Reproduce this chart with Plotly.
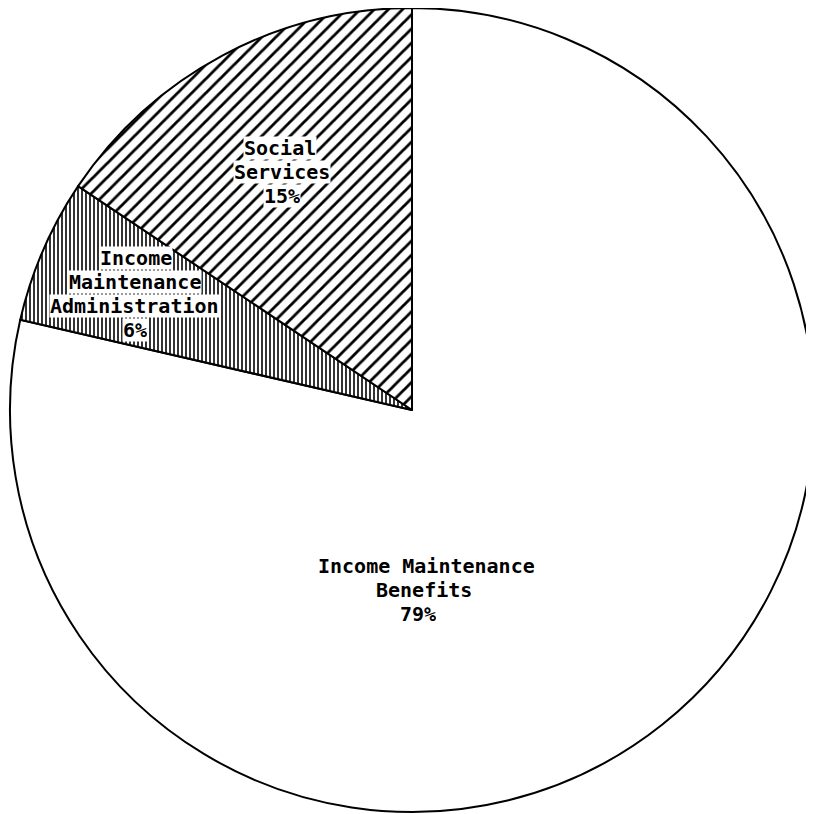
import plotly.graph_objects as go

labels = ["Income Maintenance Benefits", "Income Maintenance Administration", "Social Services"]
values = [78.6, 5.8, 15.6]
pct_text = ["79%", "6%", "15%"]
label_lines = [
    ["Income Maintenance", "Benefits"],
    ["Income", "Maintenance", "Administration"],
    ["Social", "Services"],
]
patterns = ["", "|", "/"]
pattern_sizes = [8, 4, 10]
pattern_solidity = [0.3, 0.4, 0.28]

# label line placement (page pixel positions of each text line centre)
label_px = [
    [(426, 566), (424, 590), (418, 614)],
    [(136, 258), (135, 282), (135, 306), (135, 330)],
    [(280, 148), (282, 172), (282, 196)],
]

W, H = 806, 806
ML, MR, MT, MB = 2, 0, 0, 2
OFF = 8  # page body margin
PW, PH = W - ML - MR, H - MT - MB


def to_paper(px, py):
    return (px - OFF - ML) / PW, 1 - (py - OFF - MT) / PH


fig = go.Figure(go.Pie(
    labels=labels,
    values=values,
    sort=False,
    direction="clockwise",
    rotation=0,
    textinfo="none",
    hoverinfo="label+percent",
    showlegend=False,
    marker=dict(
        colors=["white", "white", "white"],
        line=dict(color="black", width=2),
        pattern=dict(
            shape=patterns,
            size=pattern_sizes,
            solidity=pattern_solidity,
            fgcolor="black",
            bgcolor="white",
        ),
    ),
    domain=dict(x=[0, 1], y=[0, 1]),
))

for lines, pct, positions in zip(label_lines, pct_text, label_px):
    for txt, (px, py) in zip(lines + [pct], positions):
        x, y = to_paper(px, py)
        fig.add_annotation(
            x=x, y=y, xref="paper", yref="paper",
            xanchor="center", yanchor="middle",
            text=txt,
            showarrow=False,
            font=dict(family="DejaVu Sans Mono", size=20, color="black", weight="bold"),
            bgcolor="white",
            borderpad=0,
            height=22,
            valign="middle",
            align="center",
        )

fig.update_layout(
    width=W, height=H,
    margin=dict(l=ML, r=MR, t=MT, b=MB),
    paper_bgcolor="white",
    plot_bgcolor="white",
)

fig.write_html("out.html")
